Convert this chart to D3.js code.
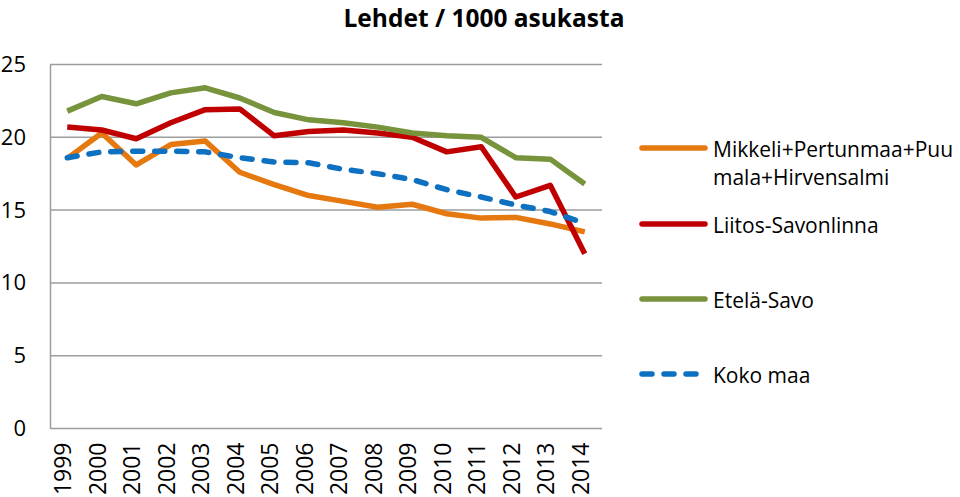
<!DOCTYPE html>
<html>
<head>
<meta charset="utf-8">
<script src="https://cdn.jsdelivr.net/npm/d3@7"></script>
<style>
  body { margin: 0; background: #fff; }
  svg { display: block; font-family: "Open Sans", sans-serif; }
</style>
</head>
<body>
<div id="chart"></div>
<script>
// data
const years = ["1999","2000","2001","2002","2003","2004","2005","2006","2007","2008","2009","2010","2011","2012","2013","2014"]
const mikkeli = [18.55, 20.3, 18.1, 19.5, 19.75, 17.6, 16.75, 16.0, 15.6, 15.2, 15.4, 14.75, 14.45, 14.5, 14.05, 13.5]
const savonlinna = [20.7, 20.5, 19.9, 21.0, 21.9, 21.95, 20.1, 20.4, 20.5, 20.3, 20.0, 19.0, 19.35, 15.9, 16.7, 12.0]
const etelaSavo = [21.8, 22.8, 22.3, 23.05, 23.4, 22.7, 21.7, 21.2, 21.0, 20.7, 20.3, 20.1, 20.0, 18.6, 18.5, 16.8]
const kokoMaa = [18.6, 19.0, 19.05, 19.05, 19.0, 18.6, 18.3, 18.25, 17.8, 17.5, 17.1, 16.4, 15.9, 15.35, 14.9, 14.1]
const yTicks = [0, 5, 10, 15, 20, 25]

const seriesNames = ["Mikkeli+Pertunmaa+Puumala+Hirvensalmi", "Liitos-Savonlinna", "Etelä-Savo", "Koko maa"]
const seriesValues = [mikkeli, savonlinna, etelaSavo, kokoMaa]
const seriesColors = ["#E5780F", "#C00000", "#77933C", "#0E70C0"]

const width = 960, height = 497
const margin = {top: 64.5, right: 358, bottom: 68.5, left: 50}

const svg = d3.select("#chart").append("svg")
    .attr("width", width)
    .attr("height", height)

const x = d3.scaleBand(years, [margin.left, width - margin.right])
const y = d3.scaleLinear([0, 25], [height - margin.bottom, margin.top])

// gridlines
svg.append("g")
    .selectAll("line")
    .data(yTicks)
    .join("line")
    .attr("x1", margin.left)
    .attr("x2", width - margin.right)
    .attr("y1", d => y(d))
    .attr("y2", d => y(d))
    .attr("stroke", "#9d9d9d")
    .attr("stroke-width", 1.5)

// left axis
svg.append("g")
    .attr("transform", `translate(${margin.left},0)`)
    .call(d3.axisLeft(y).tickValues(yTicks).tickSize(0).tickPadding(24))
    .call(g => g.select(".domain").attr("stroke", "#9d9d9d").attr("stroke-width", 1.5))
    .call(g => g.selectAll("text").attr("font-size", 22).attr("fill", "#000").attr("font-family", "Open Sans"))

// bottom axis, rotated year labels
svg.append("g")
    .attr("transform", `translate(0,${y(0)})`)
    .call(d3.axisBottom(x).tickSize(0))
    .call(g => g.select(".domain").remove())
    .call(g => g.selectAll("text")
        .attr("font-size", 23)
        .attr("font-family", "Open Sans")
        .attr("fill", "#000")
        .attr("text-anchor", "end")
        .attr("transform", "rotate(-90)")
        .attr("x", -14)
        .attr("y", -4)
        .attr("dy", "0.35em"))

const line = d3.line()
    .x((d, i) => x(years[i]) + x.bandwidth() / 2)
    .y(d => y(d))

svg.append("g")
    .selectAll("path")
    .data(seriesValues)
    .join("path")
    .attr("d", d => line(d))
    .attr("fill", "none")
    .attr("stroke", (d, i) => seriesColors[i])
    .attr("stroke-width", 5.5)
    .attr("stroke-linejoin", "round")
    .attr("stroke-linecap", (d, i) => i === 3 ? "round" : "butt")
    .attr("stroke-dasharray", (d, i) => i === 3 ? "10,12" : null)

// title
svg.append("text")
    .attr("x", 484)
    .attr("y", 27)
    .attr("text-anchor", "middle")
    .attr("font-weight", "bold")
    .attr("font-size", 24.5)
    .attr("fill", "#000")
    .text("Lehdet / 1000 asukasta")

// legend
const legendLines = [["Mikkeli+Pertunmaa+Puu", "mala+Hirvensalmi"], ["Liitos-Savonlinna"], ["Etelä-Savo"], ["Koko maa"]]
const legendY = [148, 224, 299, 374]
const legend = svg.append("g")
legendLines.forEach((lines, i) => {
  legend.append("line")
      .attr("x1", 642).attr("x2", 705)
      .attr("y1", legendY[i]).attr("y2", legendY[i])
      .attr("stroke", seriesColors[i])
      .attr("stroke-width", 5.5)
      .attr("stroke-linecap", "round")
      .attr("stroke-dasharray", i === 3 ? "10,12" : null)
  const t = legend.append("text")
      .attr("x", 713)
      .attr("y", legendY[i] + 9)
      .attr("font-size", 21)
      .attr("fill", "#000")
  lines.forEach((s, j) => {
    t.append("tspan").attr("x", 713).attr("dy", j === 0 ? 0 : 28).text(s)
  })
})
</script>
</body>
</html>
